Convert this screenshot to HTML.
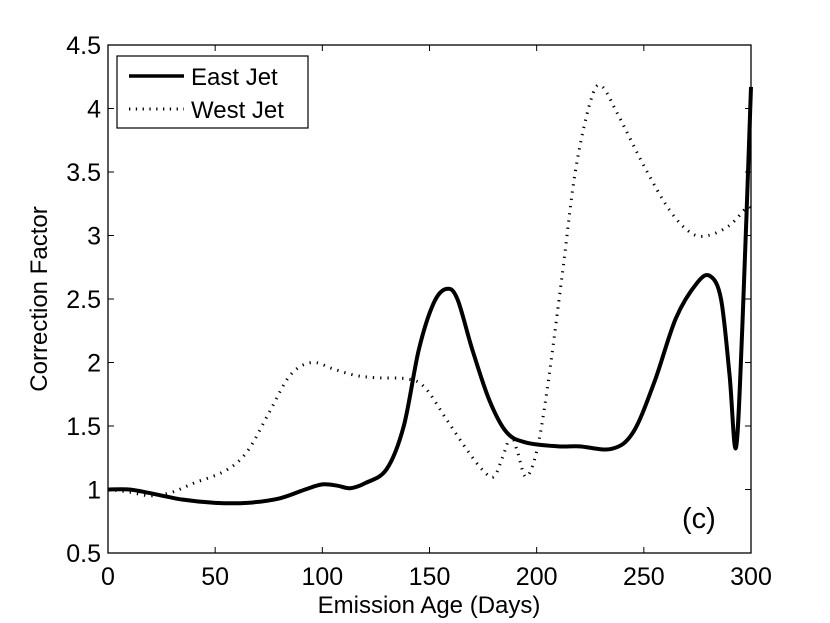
<!DOCTYPE html>
<html><head><meta charset="utf-8"><style>
html,body{margin:0;padding:0;background:#fff;}
svg{display:block;font-family:"Liberation Sans",Arial,sans-serif;}
</style></head><body>
<svg id="chart" width="830" height="623" viewBox="0 0 830 623">
<rect x="0" y="0" width="830" height="623" fill="#fff"/>
<g id="series"></g>
<rect x="108" y="45" width="643" height="508" fill="none" stroke="#000" stroke-width="1.3"/>
<g id="ticks"></g>
<text x="429" y="613" font-size="24" text-anchor="middle">Emission Age (Days)</text>
<text transform="translate(47,299) rotate(-90)" font-size="24" text-anchor="middle">Correction Factor</text>
<text x="682" y="528" font-size="29">(c)</text>
<g>
<rect x="117" y="56" width="191" height="72" fill="#fff" stroke="#000" stroke-width="1.2"/>
<line x1="129" y1="76" x2="184" y2="76" stroke="#000" stroke-width="3.5"/>
<text x="191" y="85" font-size="24">East Jet</text>
<line x1="129" y1="109" x2="184" y2="109" stroke="#000" stroke-width="3" stroke-dasharray="1.3 5.5"/>
<text x="191" y="118" font-size="24">West Jet</text>
</g>
</svg>
<script>
const xTicks=[0,50,100,150,200,250,300];
const yTicks=[0.5,1,1.5,2,2.5,3,3.5,4,4.5];
const yTickLabels=["0.5","1","1.5","2","2.5","3","3.5","4","4.5"];
const eastDays=[0,10,20,35,50,65,80,92,100,107,113,120,130,138,145,152,158,163,170,178,186,195,210,220,235,245,255,265,275,281,286,290,293,296,300];
const eastValues=[1.0,1.0,0.97,0.92,0.895,0.895,0.93,1.0,1.04,1.03,1.01,1.05,1.16,1.5,2.1,2.47,2.58,2.5,2.1,1.7,1.45,1.37,1.34,1.34,1.32,1.45,1.85,2.35,2.63,2.68,2.5,1.9,1.33,2.3,4.17];
const westDays=[0,10,20,30,40,55,65,75,85,95,105,115,125,140,148,158,168,175,180,184,188,191,195,200,205,212,218,225,230,238,250,262,272,280,290,298,300];
const westValues=[1.0,0.98,0.95,0.98,1.05,1.15,1.3,1.6,1.9,2.0,1.95,1.9,1.88,1.87,1.8,1.55,1.3,1.15,1.1,1.25,1.42,1.3,1.1,1.3,1.8,2.7,3.5,4.05,4.18,3.95,3.55,3.2,3.02,3.0,3.08,3.22,3.2];
const X0=108,X1=751,Y0=553,Y1=45;
const xs=d=>X0+(d-0)/(300-0)*(X1-X0);
const ys=v=>Y0-(v-0.5)/(4.5-0.5)*(Y0-Y1);
const NS="http://www.w3.org/2000/svg";
function smoothPath(dx,dy){
  const p=dx.map((d,i)=>[xs(d),ys(dy[i])]);
  let s="M"+p[0][0]+","+p[0][1];
  for(let i=0;i<p.length-1;i++){
    const a=p[Math.max(i-1,0)],b=p[i],c=p[i+1],e=p[Math.min(i+2,p.length-1)];
    const c1=[b[0]+(c[0]-a[0])/6,b[1]+(c[1]-a[1])/6];
    const c2=[c[0]-(e[0]-b[0])/6,c[1]-(e[1]-b[1])/6];
    s+=" C"+c1+" "+c2+" "+c;
  }
  return s;
}
const ser=document.getElementById("series");
const w=document.createElementNS(NS,"path");
w.setAttribute("d",smoothPath(westDays,westValues));
w.setAttribute("fill","none");w.setAttribute("stroke","#000");w.setAttribute("stroke-width","3");w.setAttribute("stroke-dasharray","1.3 6");


ser.appendChild(w);
const e=document.createElementNS(NS,"path");
e.setAttribute("d",smoothPath(eastDays,eastValues));
e.setAttribute("fill","none");e.setAttribute("stroke","#000");e.setAttribute("stroke-width","4");e.setAttribute("stroke-linejoin","round");


ser.appendChild(e);
const tk=document.getElementById("ticks");
xTicks.forEach(t=>{
  const x=xs(t);
  [[Y0,Y0-6],[Y1,Y1+6]].forEach(([a,b])=>{
    const l=document.createElementNS(NS,"line");
    l.setAttribute("x1",x);l.setAttribute("x2",x);l.setAttribute("y1",a);l.setAttribute("y2",b);l.setAttribute("stroke","#000");
    
    
    tk.appendChild(l);
  });
  const tx=document.createElementNS(NS,"text");
  tx.setAttribute("x",x);tx.setAttribute("y",585);tx.setAttribute("font-size","25");tx.setAttribute("text-anchor","middle");
  tx.textContent=String(t);
  
  
  tk.appendChild(tx);
});
yTicks.forEach((t,i)=>{
  const y=ys(t);
  [[X0,X0+6],[X1,X1-6]].forEach(([a,b])=>{
    const l=document.createElementNS(NS,"line");
    l.setAttribute("x1",a);l.setAttribute("x2",b);l.setAttribute("y1",y);l.setAttribute("y2",y);l.setAttribute("stroke","#000");
    
    
    tk.appendChild(l);
  });
  const tx=document.createElementNS(NS,"text");
  tx.setAttribute("x",101);tx.setAttribute("y",y+9);tx.setAttribute("font-size","25");tx.setAttribute("text-anchor","end");
  tx.textContent=yTickLabels[i];
  
  
  tk.appendChild(tx);
});
</script>
</body></html>
